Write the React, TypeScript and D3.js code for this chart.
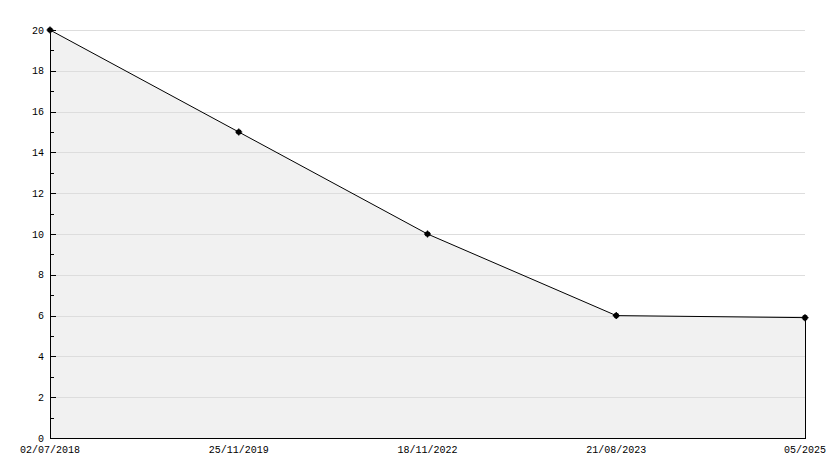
import React from "react";
import * as d3 from "d3";

const categories = ["02/07/2018", "25/11/2019", "18/11/2022", "21/08/2023", "05/2025"];
const values = [20, 15, 10, 6, 5.9];
const yTicks = [0, 2, 4, 6, 8, 10, 12, 14, 16, 18, 20];
const yMinorTicks = [1, 3, 5, 7, 9, 11, 13, 15, 17, 19];

export default function App() {
  const W = 834, H = 468;
  const left = 50, right = 805, top = 30, bottom = 438;
  const x = d3.scalePoint<string>().domain(categories).range([left, right]).padding(0);
  const y = d3.scaleLinear().domain([0, 20]).range([bottom, top]);
  const data = categories.map((c, i) => ({ c, v: values[i] }));
  const area = d3.area<{ c: string; v: number }>().x(d => x(d.c)!).y0(bottom).y1(d => y(d.v));
  const line = d3.line<{ c: string; v: number }>().x(d => x(d.c)!).y(d => y(d.v));
  const font = "'Liberation Mono', 'DejaVu Sans Mono', monospace";
  return (
    <svg width={W} height={H} style={{ position: "fixed", left: 0, top: 0, background: "#fff" }}>
      <path d={area(data)!} fill="#f1f1f1" stroke="none" />
      {yTicks.filter(t => t > 0).map(t => (
        <line key={"g" + t} x1={left} x2={right} y1={Math.round(y(t)) + 0.5} y2={Math.round(y(t)) + 0.5} stroke="#dddddd" strokeWidth={1} />
      ))}
      <line x1={right + 0.5} x2={right + 0.5} y1={y(values[values.length - 1])} y2={bottom} stroke="#000" />
      <path d={line(data)!} fill="none" stroke="#000" strokeWidth={1} />
      <line x1={left + 0.5} x2={left + 0.5} y1={top} y2={bottom + 0.5} stroke="#000" />
      <line x1={left} x2={right + 1} y1={bottom + 0.5} y2={bottom + 0.5} stroke="#000" />
      {yTicks.map(t => (
        <g key={"t" + t}>
          <line x1={left} x2={left + 6} y1={Math.round(y(t)) + 0.5} y2={Math.round(y(t)) + 0.5} stroke="#000" />
          <text x={44} y={y(t)} dy="0.35em" textAnchor="end" fontFamily={font} fontSize={10} fill="#000">{t}</text>
        </g>
      ))}
      {yMinorTicks.map(t => (
        <line key={"m" + t} x1={left} x2={left + 4} y1={Math.round(y(t)) + 0.5} y2={Math.round(y(t)) + 0.5} stroke="#000" />
      ))}
      {data.map(d => (
        <g key={"p" + d.c} transform={`translate(${x(d.c)},${y(d.v)})`}>
          <circle r={2.8} fill="#000" />
          <path d="M-3.5,0H3.5M0,-3.5V3.5" stroke="#000" strokeWidth={1.2} />
        </g>
      ))}
      {categories.map(c => (
        <text key={"x" + c} x={x(c)} y={449} dy="0.35em" textAnchor="middle" fontFamily={font} fontSize={10} fill="#000">{c}</text>
      ))}
    </svg>
  );
}
